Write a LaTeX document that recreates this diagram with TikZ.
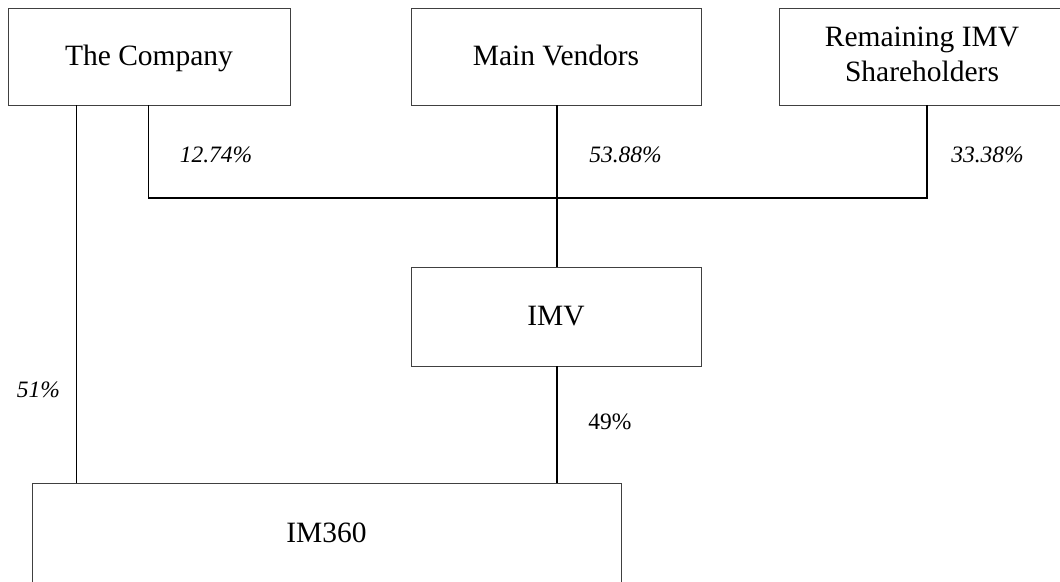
\documentclass[tikz,border=0pt]{standalone}
\usepackage{fontspec}
\setmainfont{Liberation Serif}
\begin{document}
\begin{tikzpicture}[x=1pt,y=-1pt,
  ebox/.style={draw=black!75,line width=0.9pt,rectangle,inner sep=0pt,align=center,font=\fontsize{29.5}{35}\selectfont},
  one/.style={text height=20pt,text depth=2pt},
  conn/.style={draw=black,line width=1.4pt},
  pct/.style={inner sep=0pt,font=\fontsize{23.5}{28}\selectfont\itshape},
  pctup/.style={inner sep=0pt,font=\fontsize{23.5}{28}\selectfont}]
\useasboundingbox (0,0) rectangle (1060,581);
\clip (0,0) rectangle (1060,581);
\fill[white] (0,0) rectangle (1060,581);
\node[ebox,one,minimum width=282pt,minimum height=97pt] (comp) at (149,56.5) {The Company};
\node[ebox,one,minimum width=290pt,minimum height=97pt] (mv) at (556,56.5) {Main Vendors};
\node[ebox,text height=55pt,text depth=6pt,minimum width=286pt,minimum height=97pt] (rem) at (922,56.5) {Remaining IMV\\Shareholders};
\node[ebox,one,minimum width=290pt,minimum height=99pt] (imv) at (556,316.5) {IMV};
\node[ebox,text height=20pt,text depth=6pt,minimum width=589pt,minimum height=104pt] (im) at (326.5,535) {IM360};
\coordinate (j) at (557,198);
\draw[conn] ([xshift=69pt]comp.south west) -- ([xshift=69pt]comp.south west |- im.north);
\draw[conn] ([xshift=141pt]comp.south west) |- (j) -| ([xshift=5pt]rem.south);
\draw[conn] ([xshift=1pt]mv.south) -- ([xshift=1pt]imv.north);
\draw[conn] ([xshift=1pt]imv.south) -- ([xshift=1pt]imv.south |- im.north);
\node[pct] (p1) at (216,155) {12.74\%};
\node[pct] (p2) at (625.5,155) {53.88\%};
\node[pct] (p3) at (987.5,155) {33.38\%};
\node[pct] (p4) at (38.5,389.5) {51\%};
\node[pctup] (p5) at (610,422) {49\%};
\end{tikzpicture}
\end{document}
